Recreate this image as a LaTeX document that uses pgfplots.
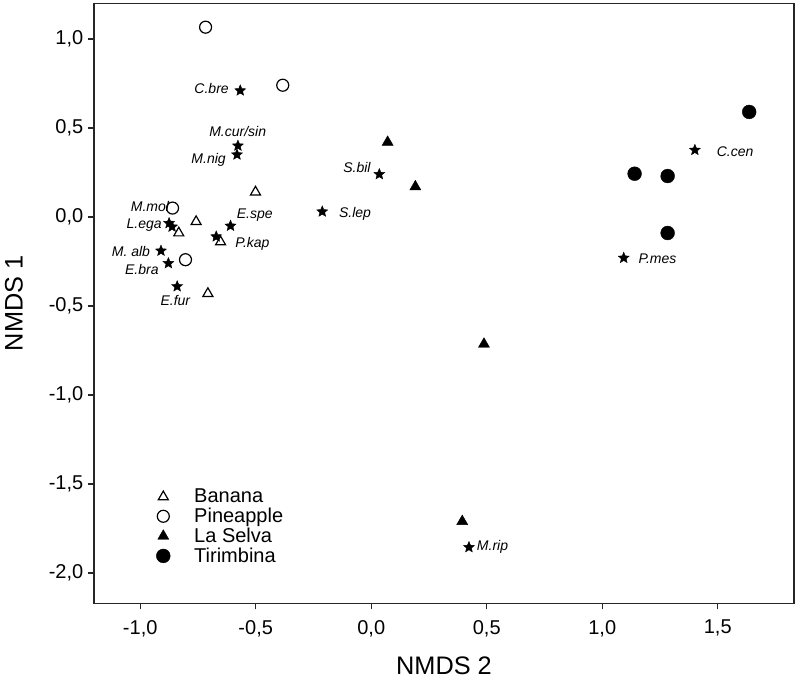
\documentclass[border=0pt]{standalone}
\usepackage{fontspec}
\setmainfont{Liberation Sans}
\usepackage{pgfplots}
\pgfplotsset{compat=1.18}
\pgfdeclareplotmark{fstar}{%
  \pgfpathmoveto{\pgfpointpolar{90}{\pgfplotmarksize}}%
  \pgfpathlineto{\pgfpointpolar{126}{0.45\pgfplotmarksize}}%
  \pgfpathlineto{\pgfpointpolar{162}{\pgfplotmarksize}}%
  \pgfpathlineto{\pgfpointpolar{198}{0.45\pgfplotmarksize}}%
  \pgfpathlineto{\pgfpointpolar{234}{\pgfplotmarksize}}%
  \pgfpathlineto{\pgfpointpolar{270}{0.45\pgfplotmarksize}}%
  \pgfpathlineto{\pgfpointpolar{306}{\pgfplotmarksize}}%
  \pgfpathlineto{\pgfpointpolar{342}{0.45\pgfplotmarksize}}%
  \pgfpathlineto{\pgfpointpolar{18}{\pgfplotmarksize}}%
  \pgfpathlineto{\pgfpointpolar{54}{0.45\pgfplotmarksize}}%
  \pgfpathclose
  \pgfusepathqfillstroke}
\pgfplotstableread{
x y
-0.501 0.14
-0.758 -0.026
-0.833 -0.09
-0.652 -0.14
-0.707 -0.43
}\banana
\pgfplotstableread{
x y
-0.717 1.066
-0.383 0.74
-0.86 0.05
-0.804 -0.24
}\pineapple
\pgfplotstableread{
x y
0.071 0.42
0.191 0.17
0.488 -0.714
0.394 -1.71
}\laselva
\pgfplotstableread{
x y
1.636 0.59
1.14 0.243
1.283 0.23
1.283 -0.09
}\tirimbina
\pgfplotstableread{
x y
-0.567 0.71
-0.577 0.40
-0.581 0.35
-0.875 -0.035
-0.862 -0.055
-0.609 -0.05
-0.671 -0.11
-0.91 -0.19
-0.878 -0.26
-0.84 -0.39
0.035 0.24
-0.212 0.03
1.401 0.376
1.093 -0.23
0.423 -1.855
}\species
\begin{document}
\begin{tikzpicture}
\useasboundingbox (-70.5pt,-61.25pt) rectangle (529.5pt,452.5pt);
\begin{axis}[
  at={(0,0)}, anchor=south west,
  scale only axis, width=525pt, height=450pt,
  xmin=-1.2, xmax=1.83, ymin=-2.17, ymax=1.2,
  xtick={-1,-0.5,0,0.5,1,1.5},
  ytick={-2,-1.5,-1,-0.5,0,0.5,1},
  tick align=outside, xtick pos=bottom, ytick pos=left,
  major tick length=4.5pt,
  axis line style={line width=0.9pt, black!85},
  every tick/.style={black!85, line width=0.9pt},
  every tick label/.append style={font=\fontsize{15}{18}\selectfont},
  xticklabel style={yshift=-4.5pt, /pgf/number format/fixed, /pgf/number format/fixed zerofill,
    /pgf/number format/precision=1, /pgf/number format/use comma,
    /pgf/number format/assume math mode=true},
  yticklabel style={/pgf/number format/fixed, /pgf/number format/fixed zerofill,
    /pgf/number format/precision=1, /pgf/number format/use comma,
    /pgf/number format/assume math mode=true},
  xlabel={NMDS 2}, ylabel={NMDS 1},
  xlabel style={at={(axis description cs:0.5,0)}, anchor=center, yshift=-46.5pt, font=\fontsize{19}{22}\selectfont},
  ylabel style={at={(axis description cs:-0.1143,0.5)}, anchor=center, font=\fontsize{19}{22}\selectfont},
  legend style={at={(axis description cs:0.083,0.2)}, anchor=north west, draw=none, fill=none,
    font=\fontsize{15}{17}\selectfont, row sep=-1.5pt,
    /tikz/every odd column/.append style={column sep=16pt}},
  legend cell align=left,
]
\addplot[only marks, mark=fstar, mark size=4.3pt, black, line width=0.3pt, forget plot] table {\species};
\addplot[only marks, mark=triangle, mark size=4.3pt, black, line width=0.9pt] table {\banana};
\addlegendentry{Banana}
\addplot[only marks, mark=o, mark size=4.5pt, black, line width=0.9pt] table {\pineapple};
\addlegendentry{Pineapple}
\addplot[only marks, mark=triangle*, mark size=4.8pt, black, line width=0.3pt] table {\laselva};
\addlegendentry{La Selva}
\addplot[only marks, mark=*, mark size=5.2pt, black, line width=0.3pt] table {\tirimbina};
\addlegendentry{Tirimbina}
\begin{scope}[font=\itshape\fontsize{10.5}{12}\selectfont]
\node at (axis cs:-0.691,0.723) {C.bre};
\node at (axis cs:-0.578,0.48) {M.cur/sin};
\node at (axis cs:-0.704,0.32) {M.nig};
\node at (axis cs:-0.958,0.06) {M.mol};
\node at (axis cs:-0.983,-0.045) {L.ega};
\node at (axis cs:-1.04,-0.195) {M. alb};
\node at (axis cs:-0.993,-0.293) {E.bra};
\node at (axis cs:-0.848,-0.47) {E.fur};
\node at (axis cs:-0.504,0.01) {E.spe};
\node at (axis cs:-0.514,-0.153) {P.kap};
\node at (axis cs:-0.062,0.28) {S.bil};
\node at (axis cs:-0.07,0.017) {S.lep};
\node at (axis cs:1.575,0.365) {C.cen};
\node at (axis cs:1.239,-0.237) {P.mes};
\node at (axis cs:0.525,-1.855) {M.rip};
\end{scope}
\end{axis}
\end{tikzpicture}
\end{document}
